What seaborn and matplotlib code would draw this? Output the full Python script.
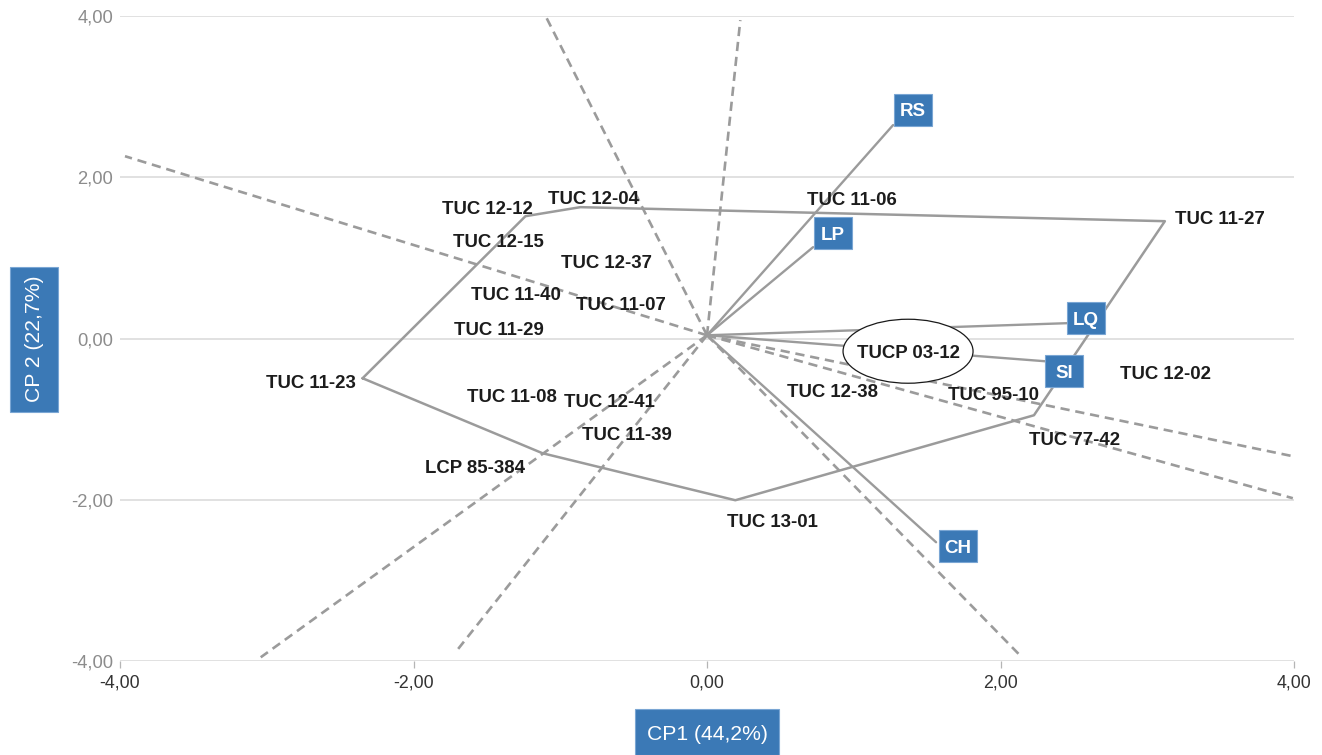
import matplotlib
matplotlib.use("Agg")
import matplotlib.pyplot as plt
from matplotlib.patches import Rectangle, Ellipse
import pandas as pd
import seaborn as sns

# Genotype scores on the first two principal components
genotypes = ["TUC 11-23", "TUC 12-12", "TUC 12-04", "TUC 11-27", "TUC 77-42",
             "TUC 13-01", "LCP 85-384", "TUC 11-06", "TUC 12-15", "TUC 12-37",
             "TUC 11-40", "TUC 11-07", "TUC 11-29", "TUCP 03-12", "TUC 12-38",
             "TUC 95-10", "TUC 12-02", "TUC 11-08", "TUC 12-41", "TUC 11-39"]
cp1 = [-2.347, -1.237, -0.863, 3.120, 2.228,
       0.193, -1.121, 0.989, -1.421, -0.686,
       -1.305, -0.584, -1.421, 1.370, 0.853,
       1.949, 3.127, -1.332, -0.665, -0.543]
cp2 = [-0.493, 1.517, 1.629, 1.455, -0.952,
       -2.006, -1.423, 1.741, 1.220, 0.959,
       0.562, 0.438, 0.128, -0.158, -0.642,
       -0.680, -0.418, -0.703, -0.765, -1.175]

# Vertex genotypes of the polygon, in drawing order
hull = ["TUC 11-23", "TUC 12-12", "TUC 12-04", "TUC 11-27",
        "TUC 77-42", "TUC 13-01", "LCP 85-384"]

# Highlighted genotype
highlight = "TUCP 03-12"

# Trait vectors
traits = ["RS", "LP", "LQ", "SI", "CH"]
trait_cp1 = [1.268, 0.723, 2.453, 2.303, 1.561]
trait_cp2 = [2.647, 1.133, 0.190, -0.282, -2.527]

# Sector boundary rays (end points; all start at the biplot origin)
ray_cp1 = [-1.100, 0.227, -3.966, 3.992, 3.992, 2.133, -3.041, -1.714]
ray_cp2 = [4.000, 3.949, 2.261, -1.460, -1.981, -3.930, -3.954, -3.892]

origin = (0.0, 0.04)

x_ticks = [-4, -2, 0, 2, 4]
y_ticks = [-4, -2, 0, 2, 4]
x_title = "CP1 (44,2%)"
y_title = "CP 2 (22,7%)"

# ---------------------------------------------------------------- styling
sns.set_theme(style="white")
plt.rcParams["font.family"] = ["Liberation Sans", "DejaVu Sans"]

BLUE = "#3b79b6"
LINE = "#9b9b9b"
GRID = "#d8d8d8"

W, H, DPI = 1322, 755, 100
fig = plt.figure(figsize=(W / DPI, H / DPI), dpi=DPI)
ax_left, ax_right, ax_top, ax_bottom = 120, 1294, 16, 661
ax = fig.add_axes([ax_left / W, (H - ax_bottom) / H,
                   (ax_right - ax_left) / W, (ax_bottom - ax_top) / H])
ax.set_xlim(-4, 4)
ax.set_ylim(-4, 4)

# pixels per data unit (used for fixed-size boxes)
sx = (ax_right - ax_left) / 8.0
sy = (ax_bottom - ax_top) / 8.0

scores = pd.DataFrame({"genotype": genotypes, "cp1": cp1, "cp2": cp2}).set_index("genotype")

# polygon joining the vertex genotypes
poly = scores.loc[hull + hull[:1]].reset_index()
sns.lineplot(data=poly, x="cp1", y="cp2", sort=False, estimator=None,
             color=LINE, lw=1.8, ax=ax, zorder=2)

# dashed sector rays
rays = pd.DataFrame({
    "ray": [i for i in range(len(ray_cp1)) for _ in range(2)],
    "cp1": [v for e in ray_cp1 for v in (origin[0], e)],
    "cp2": [v for e in ray_cp2 for v in (origin[1], e)],
})
n_before = len(ax.lines)
sns.lineplot(data=rays, x="cp1", y="cp2", units="ray", sort=False, estimator=None,
             color=LINE, lw=1.9, ax=ax, zorder=2)
for ln in ax.lines[n_before:]:
    ln.set_dashes((3.5, 2.2))

# trait vectors
vec = pd.DataFrame({
    "trait": [t for t in traits for _ in range(2)],
    "cp1": [v for e in trait_cp1 for v in (origin[0], e)],
    "cp2": [v for e in trait_cp2 for v in (origin[1], e)],
})
sns.lineplot(data=vec, x="cp1", y="cp2", units="trait", sort=False, estimator=None,
             color=LINE, lw=1.7, ax=ax, zorder=2)

# trait boxes: center offset from vector tip, in pixels (x right, y down)
box_offset = {"RS": (19.5, -15.5), "LP": (19.5, -14), "LQ": (19, -5),
              "SI": (19, 10), "CH": (22, 4)}
bw, bh = 38, 32
for t, x, y in zip(traits, trait_cp1, trait_cp2):
    ox, oy = box_offset[t]
    cx, cy = x + ox / sx, y - oy / sy
    ax.add_patch(Rectangle((cx - bw / 2 / sx, cy - bh / 2 / sy), bw / sx, bh / sy,
                           facecolor=BLUE, edgecolor="#7aa6d4", lw=0.8, zorder=4))
    ax.text(cx, cy - 2 / sy, t, color="white", fontsize=13.5, fontweight="bold",
            ha="center", va="center", zorder=5)

# genotype labels: offset of the label center from the score, in pixels
label_offset = {"TUC 11-23": (-52, 3), "TUC 12-12": (-38, -9), "TUC 12-04": (13, -9.5),
                "TUC 11-27": (55, -4), "TUC 77-42": (41, 23), "TUC 13-01": (37, 20),
                "LCP 85-384": (-67, 13)}
for g in genotypes:
    x, y = scores.loc[g, "cp1"], scores.loc[g, "cp2"]
    ox, oy = label_offset.get(g, (0, 0))
    if g == highlight:
        ax.add_patch(Ellipse((x, y), 130 / sx, 64 / sy, facecolor="white",
                             edgecolor="#1a1a1a", lw=0.9, zorder=3))
    ax.annotate(g, xy=(x, y), xytext=(ox, -oy - 2), textcoords="offset pixels",
                ha="center", va="center", fontsize=13.4, fontweight="bold",
                color="#1c1c1c", zorder=5)

# axes, grid and ticks
for s in ax.spines.values():
    s.set_visible(False)
ax.set_axisbelow(True)
ax.yaxis.grid(True, color=GRID, lw=1.1)
ax.xaxis.grid(False)
fmt = lambda v: f"{v:.2f}".replace(".", ",")
ax.set_xticks(x_ticks)
ax.set_xticklabels([fmt(v) for v in x_ticks])
ax.set_yticks(y_ticks)
ax.set_yticklabels([fmt(v) for v in y_ticks])
ax.tick_params(axis="x", bottom=True, length=5, width=0.9, color="#b5b5b5",
               labelcolor="#333333", labelsize=12.8, pad=5)
ax.tick_params(axis="y", left=False, length=0, labelcolor="#8c8c8c",
               labelsize=13.2, pad=5)
ax.set_xlabel("")
ax.set_ylabel("")

# axis titles in blue boxes
fig.patches.append(Rectangle((635 / W, 0), 144 / W, 46 / H, transform=fig.transFigure,
                             facecolor=BLUE, edgecolor="#7aa6d4", lw=0.8, figure=fig))
fig.text(707 / W, (H - 734) / H, x_title, color="white", fontsize=15.2,
         ha="center", va="center")
fig.patches.append(Rectangle((10 / W, (H - 412) / H), 48 / W, 145 / H,
                             transform=fig.transFigure, facecolor=BLUE,
                             edgecolor="#7aa6d4", lw=0.8, figure=fig))
fig.text(35 / W, (H - 339) / H, y_title, color="white", fontsize=15.2,
         ha="center", va="center", rotation=90)

fig.savefig("out.png", dpi=DPI)
